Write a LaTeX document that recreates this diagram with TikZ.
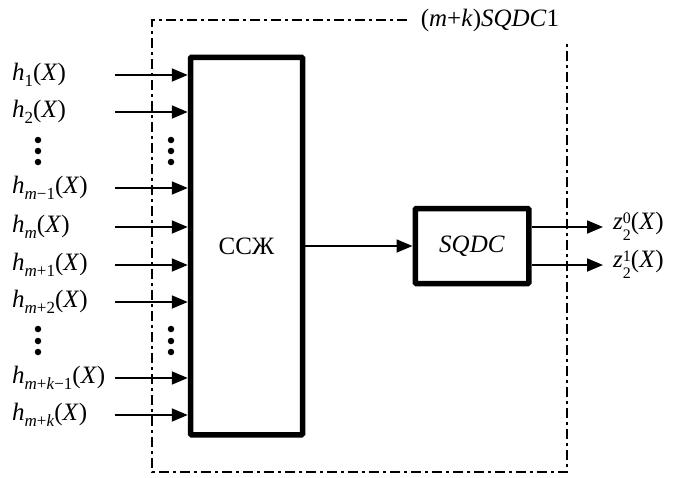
\documentclass[tikz,border=0pt]{standalone}
\usepackage{fontspec}
\setmainfont{Liberation Serif}
\usetikzlibrary{arrows.meta}

\newcommand\sbs[1]{\raisebox{-0.22em}{\fontsize{17}{17}\selectfont #1}}
\newcommand\zlab[1]{\textit{z}\raisebox{-0.14em}{\fontsize{16}{17}\selectfont
    \begin{tabular}[c]{@{}l@{}}#1\\2\end{tabular}}(\textit{X})}

\begin{document}
\begin{tikzpicture}[x=1pt,y=-1pt,
        font=\fontsize{25}{30}\selectfont,
        block/.style={draw,line width=5.5pt,rounded corners=1pt,inner sep=0pt},
        conn/.style={line width=1.8pt,-{Triangle[length=16pt,width=13pt]}},
        frame/.style={line width=1.6pt,dash pattern=on 10pt off 4pt on 3pt off 4pt},
        dot/.style={circle,fill=black,minimum size=6.5pt,inner sep=0pt}]

    \useasboundingbox (0,0) rectangle (686,477);

    \node[block,minimum width=112pt,minimum height=377.5pt] (ssj) at (246.5,246) {ССЖ};
    \node[block,minimum width=113.5pt,minimum height=75pt] (sqdc) at (472,246) {\textit{SQDC}};

    % inputs
    \foreach \i/\y/\lab in {1/75/1,2/112/2,3/188/{\textit{m}−1},4/227/{\textit{m}},
            5/265/{\textit{m}+1},6/302/{\textit{m}+2},7/378/{\textit{m}+\textit{k}−1},8/415/{\textit{m}+\textit{k}}} {
        \node[anchor=west,inner sep=0pt] (in\i) at (12,\y) {\textit{h}\sbs{\lab}(\textit{X})};
        \coordinate (src\i) at (115,\y);
        \draw[conn] (src\i) -- (ssj.west |- src\i);
    }

    \foreach \x in {38,171} {
        \node[dot] at (\x,140) {};
        \node[dot] at (\x,151) {};
        \node[dot] at (\x,162) {};
        \node[dot] at (\x,329) {};
        \node[dot] at (\x,341) {};
        \node[dot] at (\x,352) {};
    }

    \draw[conn] (ssj) -- (sqdc);

    % outputs
    \coordinate (out0) at (603,227);
    \coordinate (out1) at (603,265);
    \draw[conn] (sqdc.east |- out0) -- (out0);
    \draw[conn] (sqdc.east |- out1) -- (out1);
    \node[anchor=west,inner sep=0pt] (z0) at (613,229) {\zlab{0}};
    \node[anchor=west,inner sep=0pt] (z1) at (613,267) {\zlab{1}};

    % frame
    \draw[frame] (407,20) -- (152,20) -- (152,472) -- (567,472) -- (567,42);
    \node[inner sep=0pt] (title) at (490,20) {(\textit{m}+\textit{k})\textit{SQDC}1};
\end{tikzpicture}
\end{document}
